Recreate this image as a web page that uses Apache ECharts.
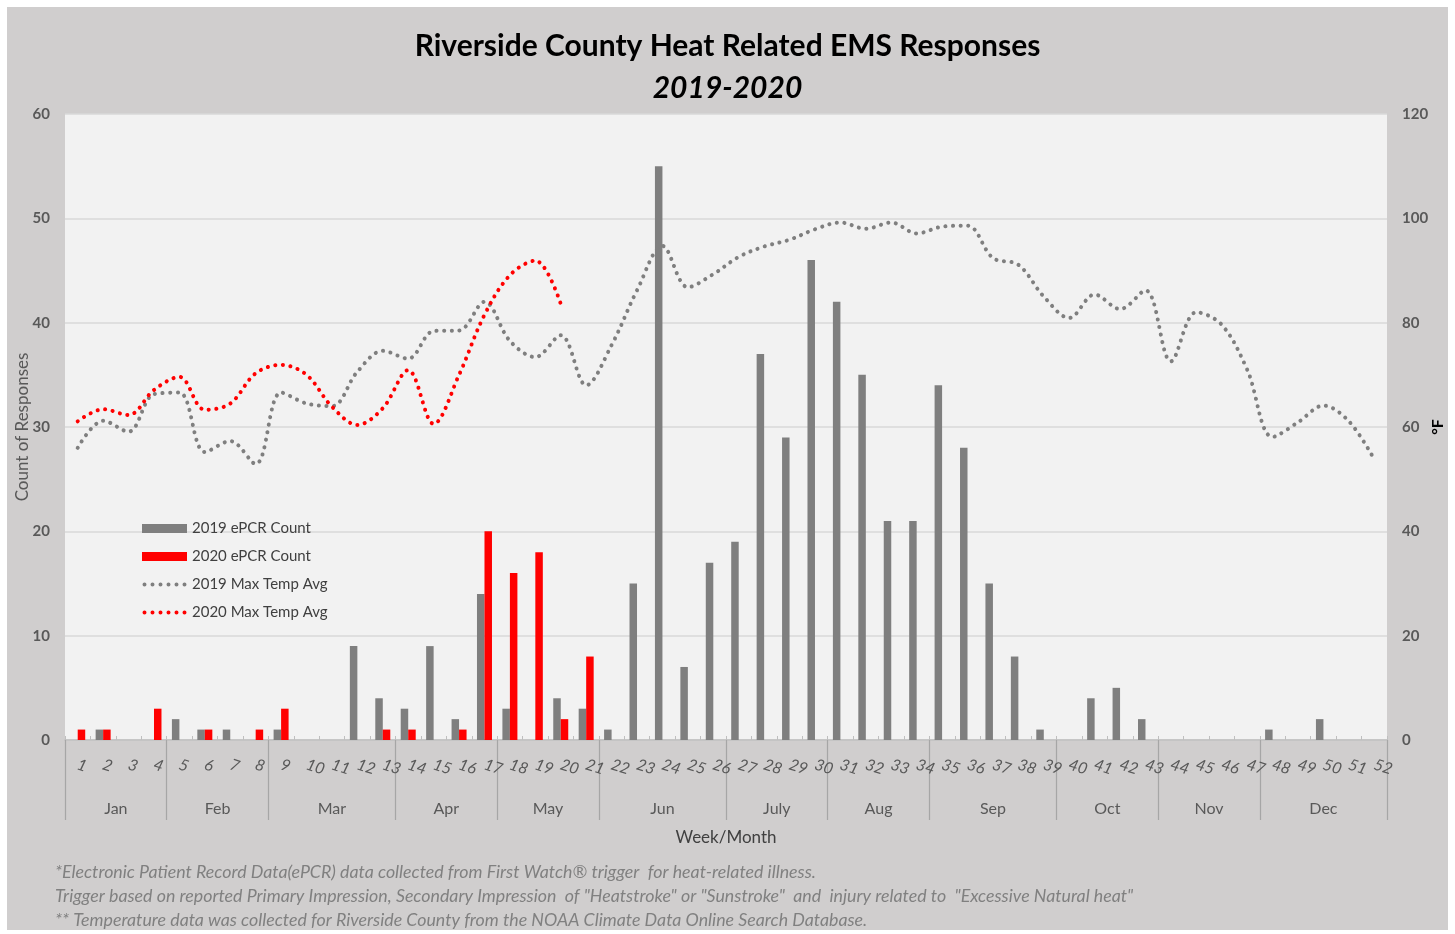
<!DOCTYPE html>
<html>
<head>
<meta charset="utf-8">
<script src="https://cdn.jsdelivr.net/npm/echarts@6/dist/echarts.min.js"></script>
<style>
  html, body { margin:0; padding:0; background:#ffffff; overflow:hidden; }
  #bg { position:absolute; left:7px; top:7px; width:1441px; height:923px; background:#d0cece; }
  #chart { position:absolute; left:0; top:0; width:1455px; height:934px; }
</style>
</head>
<body>
<div id="bg"></div>
<div id="chart"></div>
<script>
// ---- data ----
const weeks = ['1','2','3','4','5','6','7','8','9','10','11','12','13','14','15','16','17','18','19','20','21','22','23','24','25','26','27','28','29','30','31','32','33','34','35','36','37','38','39','40','41','42','43','44','45','46','47','48','49','50','51','52'];
const count2019 = [0,1,0,0,2,1,1,0,1,0,0,9,4,3,9,2,14,3,0,4,3,1,15,55,7,17,19,37,29,46,42,35,21,21,34,28,15,8,1,0,4,5,2,0,0,0,0,1,0,2,0,0];
const count2020 = [1,1,0,3,0,1,0,1,3,0,0,0,1,1,0,1,20,16,18,2,8];
const temp2019 = [56,61.2,59.1,66.3,66.6,55.2,57.3,52.9,66.6,64.5,64,70.6,74.6,73.1,78.4,78.5,84,76.5,73.4,77.6,68,75.7,86.2,94.7,86.8,89.3,92.6,94.6,95.9,97.9,99.2,98,99.2,97.1,98.4,98.6,92.4,91.1,85,80.9,85.4,82.6,86.2,72.6,82,79.6,71,58.1,60.9,64.1,61.1,53.8];
const temp2020 = [61.1,63.4,62.3,67.1,69.6,63.3,64.5,70.3,71.9,70,63.9,60.4,63.6,70.9,60.6,70,81.5,89.1,91.9,83.6];
const months = ['Jan','Feb','Mar','Apr','May','Jun','July','Aug','Sep','Oct','Nov','Dec'];
const monthWeeks = [4,4,5,4,4,5,4,4,5,4,4,5];
const leftTicks = [0,10,20,30,40,50,60];
const rightTicks = [0,20,40,60,80,100,120];

// half-week grid for month row
const halfSlots = [];
for (let i = 0; i <= 104; i++) halfSlots.push(String(i));
const boundarySet = new Set([0]);
const centerMap = {};
let acc = 0;
monthWeeks.forEach((w, i) => {
  centerMap[acc * 2 + w] = months[i];
  acc += w;
  boundarySet.add(acc * 2);
});

// dotted legend icon: six dots in a 45x9 box
let dotPath = 'path://M0 0 L0.01 0 M45 9 L44.99 9 ';
for (let k = 0; k < 6; k++) {
  const cx = 2.5 + k * 8;
  dotPath += 'M' + (cx - 2) + ' 4.5 a2 2 0 1 0 4 0 a2 2 0 1 0 -4 0 ';
}

const FONT = 'Lato, "Noto Sans", sans-serif';
const chart = echarts.init(document.getElementById('chart'), null, {renderer: 'canvas'});
const option = {
  backgroundColor: 'transparent',
  animation: false,
  textStyle: { fontFamily: FONT },
  grid: { left: 65, width: 1322, top: 114, height: 626, show: true, backgroundColor: '#f2f2f2', borderWidth: 0, containLabel: false, outerBoundsMode: 'none' },
  legend: {
    orient: 'vertical', left: 142, top: 521, padding: 0, itemWidth: 45, itemHeight: 9, itemGap: 13,
    textStyle: { fontSize: 15, color: '#404040', fontFamily: FONT },
    data: [
      { name: '2019 ePCR Count', icon: 'rect' },
      { name: '2020 ePCR Count', icon: 'rect' },
      { name: '2019 Max Temp Avg', icon: dotPath },
      { name: '2020 Max Temp Avg', icon: dotPath }
    ]
  },
  xAxis: [
    {
      type: 'category', data: weeks, gridIndex: 0, position: 'bottom', boundaryGap: true,
      axisLine: { show: true, lineStyle: { color: '#bfbfbf', width: 1.5 } },
      axisTick: { show: true, inside: true, length: 4, lineStyle: { color: '#bfbfbf' } },
      axisLabel: { interval: 0, rotate: -18, margin: 24, fontSize: 16, fontStyle: 'italic', color: '#595959', fontFamily: FONT },
      splitLine: { show: false }
    },
    {
      type: 'category', data: halfSlots, gridIndex: 0, position: 'bottom', boundaryGap: false,
      axisLine: { show: false },
      axisTick: { show: true, length: 80, interval: (idx) => boundarySet.has(idx), lineStyle: { color: '#a6a6a6', width: 1.2 } },
      axisLabel: { interval: (idx) => centerMap[idx] !== undefined, formatter: (v) => centerMap[+v] || '', margin: 61, fontSize: 16, color: '#595959', fontFamily: FONT },
      splitLine: { show: false }
    }
  ],
  yAxis: [
    {
      type: 'value', min: 0, max: 60, interval: 10, position: 'left',
      name: 'Count of Responses', nameLocation: 'middle', nameGap: 34, nameRotate: 90, nameMoveOverlap: false,
      nameTextStyle: { fontSize: 17, color: '#595959', fontFamily: FONT },
      axisLine: { show: false }, axisTick: { show: false },
      axisLabel: { margin: 15, fontSize: 15, fontWeight: 'bold', color: '#595959', fontFamily: FONT, formatter: (v) => leftTicks.includes(v) ? String(v) : '' },
      splitLine: { show: true, lineStyle: { color: '#d9d9d9', width: 1.5 } }
    },
    {
      type: 'value', min: 0, max: 120, interval: 20, position: 'right',
      name: '°F', nameLocation: 'middle', nameGap: 43, nameRotate: 90, nameMoveOverlap: false,
      nameTextStyle: { fontSize: 16, fontWeight: 'bold', color: '#000000', fontFamily: FONT },
      axisLine: { show: false }, axisTick: { show: false },
      axisLabel: { margin: 15, fontSize: 15, fontWeight: 'bold', color: '#595959', fontFamily: FONT, formatter: (v) => rightTicks.includes(v) ? String(v) : '' },
      splitLine: { show: false }
    }
  ],
  series: [
    { name: '2019 ePCR Count', type: 'bar', xAxisIndex: 0, yAxisIndex: 0, data: count2019, barWidth: 7.5, barGap: '0%', itemStyle: { color: '#7f7f7f' }, z: 2 },
    { name: '2020 ePCR Count', type: 'bar', xAxisIndex: 0, yAxisIndex: 0, data: count2020, barWidth: 7.5, barGap: '0%', itemStyle: { color: '#ff0000' }, z: 2 },
    { name: '2019 Max Temp Avg', type: 'line', xAxisIndex: 0, yAxisIndex: 1, data: temp2019, smooth: 0.35, symbol: 'none', showSymbol: false,
      itemStyle: { color: '#7f7f7f' }, lineStyle: { color: '#7f7f7f', width: 4, type: [0.1, 7.5], cap: 'round' }, z: 3 },
    { name: '2020 Max Temp Avg', type: 'line', xAxisIndex: 0, yAxisIndex: 1, data: temp2020, smooth: 0.35, symbol: 'none', showSymbol: false,
      itemStyle: { color: '#ff0000' }, lineStyle: { color: '#ff0000', width: 4, type: [0.1, 7.5], cap: 'round' }, z: 4 }
  ],
  graphic: [
    { type: 'text', left: 'center', top: 31, style: { text: 'Riverside County Heat Related EMS Responses', font: 'bold 30px ' + FONT, fill: '#000000' } },
    { type: 'text', left: 'center', top: 73, style: { text: '2019-2020', font: 'italic bold 30px ' + FONT, fill: '#000000' } },
    { type: 'text', x: 726, y: 838, style: { text: 'Week/Month', font: '17px ' + FONT, fill: '#404040', textAlign: 'center', textVerticalAlign: 'middle' } },
    { type: 'text', x: 55, y: 872, style: { text: '*Electronic Patient Record Data(ePCR) data collected from First Watch\u00AE trigger  for heat-related illness.', font: 'italic 17.8px ' + FONT, fill: '#808080', textVerticalAlign: 'middle' } },
    { type: 'text', x: 55, y: 896, style: { text: 'Trigger based on reported Primary Impression, Secondary Impression  of "Heatstroke" or "Sunstroke"  and  injury related to  "Excessive Natural heat"', font: 'italic 17.8px ' + FONT, fill: '#808080', textVerticalAlign: 'middle' } },
    { type: 'text', x: 55, y: 920, style: { text: '** Temperature data was collected for Riverside County from the NOAA Climate Data Online Search Database.', font: 'italic 17.8px ' + FONT, fill: '#808080', textVerticalAlign: 'middle' } }
  ]
};
chart.setOption(option);
</script>
</body>
</html>
